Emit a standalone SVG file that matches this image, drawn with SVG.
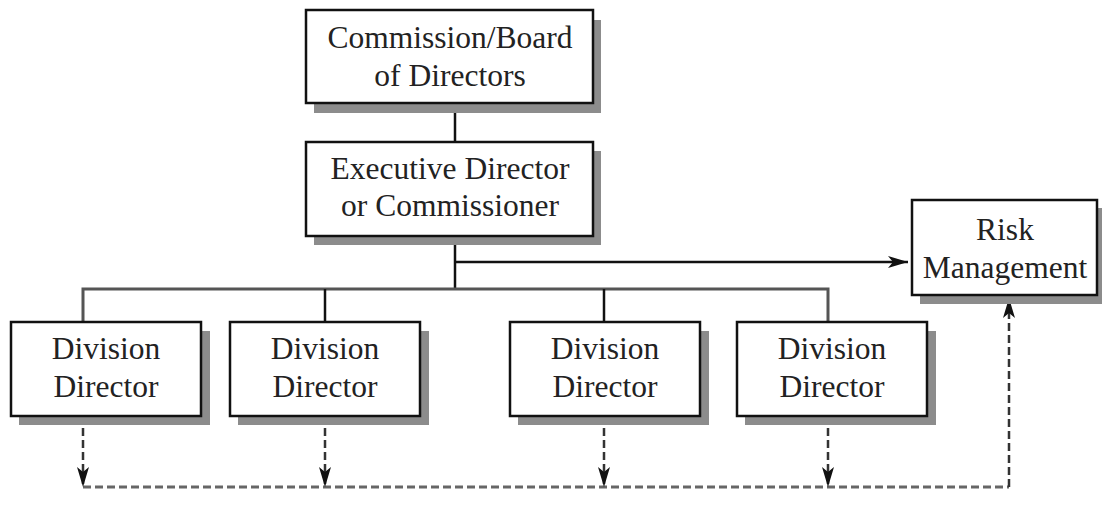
<svg xmlns="http://www.w3.org/2000/svg" width="1102" height="516" viewBox="0 0 1102 516">
<style>
.shadow{fill:#8c8c8c}
.box{fill:#fff;stroke:#111;stroke-width:2.5}
.t{font-family:"Liberation Serif","Times New Roman",serif;font-size:31.5px;fill:#222;text-anchor:middle}
.solid{fill:none;stroke:#111;stroke-width:2.5}
.bus{fill:none;stroke:#555;stroke-width:3}
.dash{fill:none;stroke:#333;stroke-width:2.5;stroke-dasharray:8,4}
.dashg{fill:none;stroke:#666;stroke-width:3;stroke-dasharray:8,4}
</style>
<defs>
<marker id="ah" viewBox="0 0 20 12" refX="20" refY="6" markerWidth="20" markerHeight="12" markerUnits="userSpaceOnUse" orient="auto">
<path d="M0,0 L20,6 L0,12 L5,6 Z" fill="#111"/>
</marker>
</defs>
<g id="connectors">
<line class="solid" x1="455" y1="103" x2="455" y2="142"/>
<line class="solid" x1="455" y1="236" x2="455" y2="289"/>
<line class="solid" x1="455" y1="262" x2="908" y2="262" marker-end="url(#ah)"/>
<polyline class="bus" points="83,322 83,289 828,289 828,322"/>
<line class="solid" x1="325" y1="289" x2="325" y2="322"/>
<line class="solid" x1="604" y1="289" x2="604" y2="322"/>
<line class="dashg" x1="83" y1="487" x2="1009" y2="487"/>
<line class="dash" x1="83" y1="416" x2="83" y2="487" marker-end="url(#ah)"/>
<line class="dash" x1="325" y1="416" x2="325" y2="487" marker-end="url(#ah)"/>
<line class="dash" x1="604" y1="416" x2="604" y2="487" marker-end="url(#ah)"/>
<line class="dash" x1="828" y1="416" x2="828" y2="487" marker-end="url(#ah)"/>
<line class="dash" x1="1009" y1="487" x2="1009" y2="298" marker-end="url(#ah)"/>
</g>
<g id="board">
<rect class="shadow" x="314" y="20" width="287" height="93"/>
<rect class="box" x="306" y="10" width="287" height="93"/>
<text class="t" x="450" y="48">Commission/Board</text>
<text class="t" x="450" y="86">of Directors</text>
</g>
<g id="executive">
<rect class="shadow" x="314" y="151" width="287" height="94"/>
<rect class="box" x="306" y="142" width="287" height="94"/>
<text class="t" x="450" y="179">Executive Director</text>
<text class="t" x="450" y="216">or Commissioner</text>
</g>
<g id="risk">
<rect class="shadow" x="920" y="208" width="185" height="96"/>
<rect class="box" x="912" y="200" width="185" height="95"/>
<text class="t" x="1005" y="240">Risk</text>
<text class="t" x="1005" y="278">Management</text>
</g>
<g id="division1">
<rect class="shadow" x="19" y="331" width="191" height="94"/>
<rect class="box" x="11" y="322" width="190" height="94"/>
<text class="t" x="106" y="359">Division</text>
<text class="t" x="106" y="397">Director</text>
</g>
<g id="division2">
<rect class="shadow" x="238" y="331" width="191" height="94"/>
<rect class="box" x="230" y="322" width="190" height="94"/>
<text class="t" x="325" y="359">Division</text>
<text class="t" x="325" y="397">Director</text>
</g>
<g id="division3">
<rect class="shadow" x="518" y="331" width="191" height="94"/>
<rect class="box" x="510" y="322" width="190" height="94"/>
<text class="t" x="605" y="359">Division</text>
<text class="t" x="605" y="397">Director</text>
</g>
<g id="division4">
<rect class="shadow" x="745" y="331" width="191" height="94"/>
<rect class="box" x="737" y="322" width="190" height="94"/>
<text class="t" x="832" y="359">Division</text>
<text class="t" x="832" y="397">Director</text>
</g>
</svg>
